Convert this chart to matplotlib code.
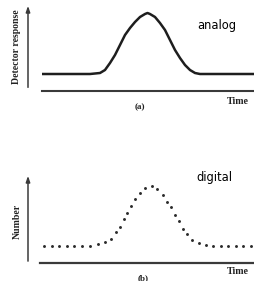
import matplotlib
matplotlib.use("Agg")
import matplotlib.pyplot as plt

# analog detector trace (time, response)
analog_time = [14, 62, 72, 77, 82, 87, 92, 97, 102, 107, 112, 117, 119.5, 122,
               127, 132, 137, 142, 147, 152, 157, 162, 167, 172, 226]
analog_resp = [17, 17, 18, 21, 28, 36, 46, 56, 63, 69, 74, 77, 78, 77,
               74, 68, 61, 51, 41, 33, 26, 21, 18, 17, 17]

# digital counts (time, number)
digital_time = [16, 24, 31, 39, 46, 54, 62, 69.7, 77, 83, 88.3, 92.3, 95.7, 99,
                103, 107, 111.7, 117, 123.5, 129.3, 135.3, 139.3, 142.7, 147.3,
                151.3, 154.7, 158.7, 164, 171.3, 178, 185, 193, 200, 208, 215, 223]
digital_num = [17.5, 17.5, 17.5, 17.5, 17.5, 17.5, 17.5, 19, 21, 24.3, 30.7, 36.3,
               43.7, 49.7, 57, 63.7, 69.7, 75, 77, 73.7, 68.3, 61, 55.7, 48.3,
               41.7, 34.3, 29, 23, 20.3, 17.7, 17.5, 17.5, 17.5, 17.5, 17.5, 17.5]

W, H = 254, 281
fig = plt.figure(figsize=(W / 100, H / 100), dpi=100, facecolor='white')

axis_col = '#3a3a3a'
serif = ['Liberation Serif', 'DejaVu Serif']


def make_axes(left_px, bottom_px, top_px, ymax):
    ax = fig.add_axes([left_px / W, 1 - bottom_px / H,
                       (W - left_px) / W, (bottom_px - top_px) / H])
    ax.set_xlim(0, W - left_px)
    ax.set_ylim(0, ymax)
    ax.axis('off')
    return ax


# panel (a): analog
ax1 = make_axes(28, 91, 3, 88)
ax1.plot(analog_time, analog_resp, color='#1e1e1e', lw=1.8,
         solid_joinstyle='round', solid_capstyle='butt')
ax1.annotate('', xy=(0, 1.0), xytext=(0, 0.01), xycoords='axes fraction',
             arrowprops=dict(arrowstyle='-|>,head_length=0.35,head_width=0.12',
                             color=axis_col, lw=1.1))
ax1.plot([0.062, 1.0], [-0.005, -0.005], transform=ax1.transAxes,
         color=axis_col, lw=1.5, clip_on=False)

# panel (b): digital
ax2 = make_axes(28, 263, 173, 90)
ax2.plot(digital_time, digital_num, ls='none', marker='o', ms=2.1,
         color='#2a2a2a', mec='none')
ax2.annotate('', xy=(0, 1.0), xytext=(0, -0.01), xycoords='axes fraction',
             arrowprops=dict(arrowstyle='-|>,head_length=0.35,head_width=0.12',
                             color=axis_col, lw=1.1))
ax2.plot([0.053, 1.0], [0.0, 0.0], transform=ax2.transAxes,
         color=axis_col, lw=1.6, clip_on=False)

# labels
def px_text(x, y, s, **kw):
    fig.text(x / W, 1 - y / H, s, ha='center', va='center', **kw)


px_text(17, 47, 'Detector response', rotation=90, fontsize=7,
        family=serif, fontweight='bold', color='#222222')
px_text(17, 221, 'Number', rotation=90, fontsize=7,
        family=serif, fontweight='bold', color='#222222')
px_text(237.5, 101.5, 'Time', fontsize=7.2, family=serif,
        fontweight='bold', color='#222222')
px_text(238, 272, 'Time', fontsize=7.2, family=serif,
        fontweight='bold', color='#222222')
px_text(140, 107, '(a)', fontsize=6.5, family=serif, fontweight='bold',
        color='#222222')
px_text(143, 278, '(b)', fontsize=6.5, family=serif, fontweight='bold',
        color='#222222')
px_text(217, 25, 'analog', fontsize=8.3, color='black')
px_text(214, 178, 'digital', fontsize=8.3, color='black')

plt.savefig('out.png', dpi=100, facecolor='white')
